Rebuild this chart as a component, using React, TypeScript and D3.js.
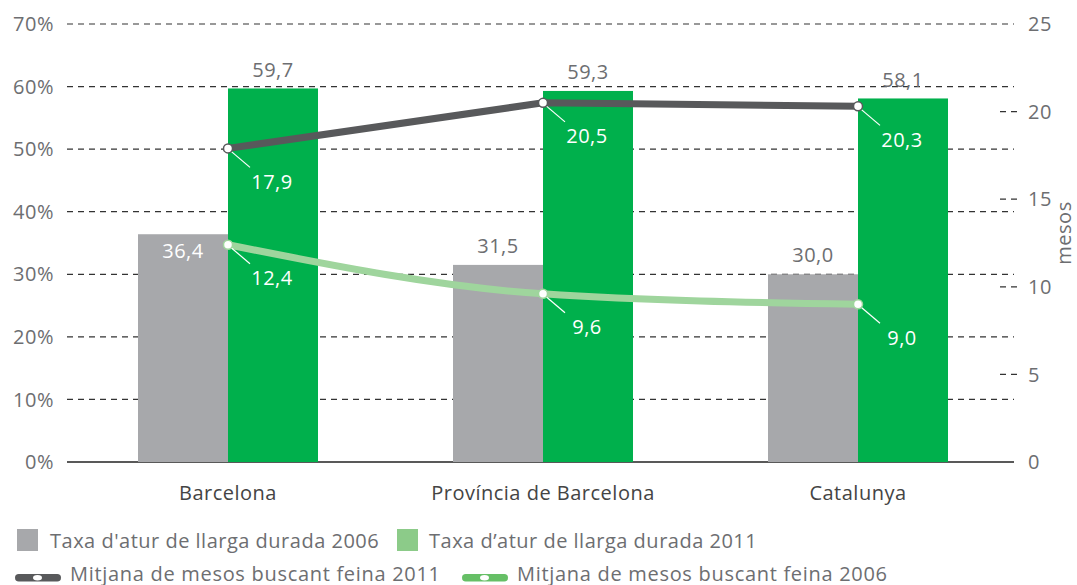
import React from 'react';
import * as d3 from 'd3';

// Llarga durada: taxa (barres, eix esquerre) i mesos buscant feina (línies, eix dret)

const categories = ['Barcelona', 'Província de Barcelona', 'Catalunya'];
const rate2006 = [36.4, 31.5, 30.0];
const rate2011 = [59.7, 59.3, 58.1];
const rate2006LabelInside = [true, false, false];
const months2011 = [17.9, 20.5, 20.3];
const months2006 = [12.4, 9.6, 9.0];
const leftTicks = [0, 10, 20, 30, 40, 50, 60, 70];
const rightTicks = [0, 5, 10, 15, 20, 25];

const W = 1077;
const H = 585;
const FONT = "'Open Sans', Roboto, sans-serif";
const FS = 20;
const TEXT = '#6d6e71';
const GRAY = '#a7a8ab';
const GREEN = '#00b04c';
const DARK = '#58595b';
const LIGHT = '#9fd59d';

const fmt = (v: number) => d3.format('.1f')(v).replace('.', ',');

const App = () => {
  const x = d3.scaleBand<string>().domain(categories).range([70.5, 1015.5]);
  const yL = d3.scaleLinear().domain([0, 70]).range([462, 24]);
  const yR = d3.scaleLinear().domain([0, 25]).range([462, 24]);
  const barW = 90;
  const cx = (c: string) => (x(c) as number) + x.bandwidth() / 2;

  const darkLine = d3
    .line<number>()
    .x((_, i) => cx(categories[i]))
    .y(d => yR(d));
  const lightLine = d3
    .line<number>()
    .x((_, i) => cx(categories[i]))
    .y(d => yR(d))
    .curve(d3.curveMonotoneX);

  const series = [
    { values: months2006, path: lightLine(months2006), color: LIGHT },
    { values: months2011, path: darkLine(months2011), color: DARK },
  ];

  return (
    <svg
      width={W}
      height={H}
      style={{ position: 'absolute', left: 0, top: 0, fontFamily: FONT, letterSpacing: '0.5px' }}
    >
      <rect width={W} height={H} fill="#fff" />

      {/* left grid + labels */}
      {leftTicks.map(t => (
        <g key={'l' + t}>
          <line
            x1={67}
            x2={1014}
            y1={yL(t)}
            y2={yL(t)}
            stroke={t === 0 ? '#222' : '#333'}
            strokeWidth={t === 0 ? 1.5 : 1.2}
            strokeDasharray={t === 0 ? undefined : '6,5'}
          />
          <text x={54} y={yL(t)} dy="0.36em" textAnchor="end" fontSize={FS} fill={TEXT}>
            {t}%
          </text>
        </g>
      ))}

      {/* right axis */}
      {rightTicks.map(t => (
        <g key={'r' + t}>
          {t > 0 && t < 25 && (
            <line
              x1={1000}
              x2={1017}
              y1={yR(t)}
              y2={yR(t)}
              stroke="#333"
              strokeWidth={1.2}
              strokeDasharray="6,5"
            />
          )}
          <text x={1028} y={yR(t)} dy="0.36em" fontSize={FS} fill={TEXT}>
            {t}
          </text>
        </g>
      ))}
      <text
        transform="translate(1064,233) rotate(-90)"
        textAnchor="middle"
        dy="0.36em"
        fontSize={FS}
        fill={TEXT}
      >
        mesos
      </text>

      {/* bars */}
      {categories.map((c, i) => (
        <g key={c}>
          <rect x={cx(c) - barW} y={yL(rate2006[i])} width={barW} height={yL(0) - yL(rate2006[i])} fill={GRAY} />
          <rect x={cx(c)} y={yL(rate2011[i])} width={barW} height={yL(0) - yL(rate2011[i])} fill={GREEN} />
          <text
            x={cx(c) - barW / 2}
            y={rate2006LabelInside[i] ? yL(rate2006[i]) + 17 : yL(rate2006[i]) - 19}
            dy="0.36em"
            textAnchor="middle"
            fontSize={FS}
            fill={rate2006LabelInside[i] ? '#fff' : TEXT}
          >
            {fmt(rate2006[i])}
          </text>
          <text
            x={cx(c) + barW / 2}
            y={yL(rate2011[i]) - 19}
            dy="0.36em"
            textAnchor="middle"
            fontSize={FS}
            fill={TEXT}
          >
            {fmt(rate2011[i])}
          </text>
          <text x={cx(c)} y={493} dy="0.36em" textAnchor="middle" fontSize={FS} fill="#444">
            {c}
          </text>
        </g>
      ))}

      {/* lines */}
      {series.map((s, k) => (
        <g key={k}>
          <path d={s.path || ''} fill="none" stroke={s.color} strokeWidth={7} />
          {s.values.map((v, i) => {
            const px = cx(categories[i]);
            const py = yR(v);
            return (
              <g key={i}>
                <line x1={px + 2} y1={py + 2} x2={px + 22} y2={py + 19} stroke="#fff" strokeWidth={1.2} />
                <circle cx={px} cy={py} r={4.5} fill="#fff" stroke={s.color} strokeWidth={1.5} />
                <text x={px + 44} y={py + 33} dy="0.36em" textAnchor="middle" fontSize={FS} fill="#fff">
                  {fmt(v)}
                </text>
              </g>
            );
          })}
        </g>
      ))}

      {/* legend */}
      <g fontSize={FS} fill={TEXT}>
        <rect x={17} y={529} width={21} height={22} fill={GRAY} />
        <text x={50} y={548}>Taxa d'atur de llarga durada 2006</text>
        <rect x={397} y={529} width={21} height={22} fill="#8ccb89" />
        <text x={429} y={548}>Taxa d’atur de llarga durada 2011</text>

        <rect x={15} y={574} width={46} height={7.5} rx={3.75} fill={DARK} />
        <ellipse cx={37.5} cy={577.75} rx={4.5} ry={2.8} fill="#fff" />
        <text x={70} y={581} letterSpacing="0.7px">Mitjana de mesos buscant feina 2011</text>
        <rect x={462} y={574} width={46} height={7.5} rx={3.75} fill="#66bf66" />
        <ellipse cx={484.5} cy={577.75} rx={4.5} ry={2.8} fill="#fff" />
        <text x={517} y={581} letterSpacing="0.7px">Mitjana de mesos buscant feina 2006</text>
      </g>
    </svg>
  );
};

export default App;
